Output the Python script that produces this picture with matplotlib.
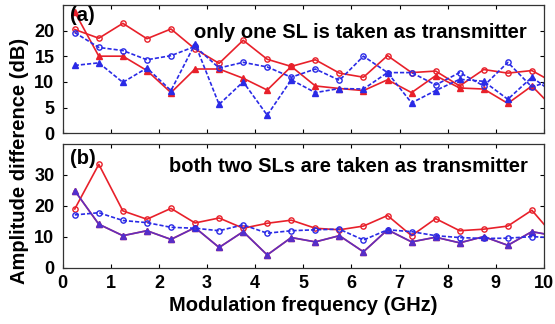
import numpy as np
import matplotlib.pyplot as plt

plt.rcParams['font.family'] = ['Liberation Sans', 'DejaVu Sans']
plt.rcParams['font.weight'] = 'bold'

# modulation frequencies (GHz)
freq = [0.25, 0.75, 1.25, 1.75, 2.25, 2.75, 3.25, 3.75, 4.25, 4.75,
        5.25, 5.75, 6.25, 6.75, 7.25, 7.75, 8.25, 8.75, 9.25, 9.75, 10.25]

# (a) only one SL is taken as transmitter
a_red_circ = [20.2, 18.5, 21.4, 18.4, 20.3, 16.4, 13.6, 18.1, 14.4, 13.0,
              14.3, 11.7, 10.9, 15.1, 11.8, 12.1, 9.2, 12.4, 11.7, 12.2, 9.6]
a_red_tri = [23.6, 15.0, 15.0, 12.2, 7.9, 12.5, 12.5, 10.7, 8.4, 13.0,
             9.2, 8.7, 8.3, 10.4, 7.9, 11.2, 8.8, 8.6, 5.8, 9.2, 4.4]
a_blue_circ = [19.6, 16.7, 16.1, 14.3, 15.1, 16.9, 12.7, 13.8, 12.9, 10.9,
               12.5, 10.3, 15.0, 11.8, 11.8, 9.4, 11.8, 9.2, 13.8, 9.0, 10.5]
a_blue_tri = [13.2, 13.7, 9.9, 12.7, 8.3, 17.4, 5.6, 10.0, 3.5, 10.4,
              7.9, 8.7, 8.6, 11.8, 5.9, 8.3, 10.5, 10.1, 6.6, 10.9, 7.5]

# (b) both two SLs are taken as transmitter
b_red_circ = [19.0, 33.4, 18.4, 15.7, 19.2, 14.5, 16.1, 12.8, 14.4, 15.4,
              12.8, 12.3, 13.5, 16.9, 10.4, 15.9, 12.0, 12.5, 13.5, 18.6, 9.6]
b_blue_circ = [17.1, 17.8, 15.3, 14.6, 13.1, 12.8, 12.0, 13.9, 11.2, 12.0,
               12.3, 12.5, 9.0, 12.3, 11.7, 10.4, 9.8, 9.5, 9.6, 10.1, 9.7]
b_tri = [24.9, 14.1, 10.4, 12.0, 9.2, 13.0, 6.6, 11.7, 4.2, 9.8,
         8.4, 10.4, 5.2, 12.3, 8.4, 9.9, 8.1, 10.1, 7.3, 11.7, 10.3]

red = '#e8202a'
blue = '#2a2ae6'

fig = plt.figure(figsize=(5.55, 3.24), dpi=100)
ax1 = fig.add_axes([0.113, 0.589, 0.867, 0.396])
ax2 = fig.add_axes([0.113, 0.173, 0.867, 0.383])

kw = dict(lw=1.2, ms=3.8, clip_on=True)
ax1.plot(freq, a_red_circ, '-', color=red, marker='o', mfc='none', mew=1.0, **kw)
ax1.plot(freq, a_red_tri, '-', color=red, marker='^', **kw)
ax1.plot(freq, a_blue_circ, '--', color=blue, marker='o', mfc='none', mew=1.0,
         dashes=(2.5, 1.2), **kw)
ax1.plot(freq, a_blue_tri, '--', color=blue, marker='^', dashes=(2.5, 1.2), **kw)

ax2.plot(freq, b_red_circ, '-', color=red, marker='o', mfc='none', mew=1.0, **kw)
ax2.plot(freq, b_tri, '-', color=red, marker='^', **kw)
ax2.plot(freq, b_tri, '-', color='#4a30d8', marker='^', alpha=0.85, **kw)
ax2.plot(freq, b_blue_circ, '--', color=blue, marker='o', mfc='none', mew=1.0,
         dashes=(2.5, 1.2), **kw)

ax1.set_xlim(0, 10)
ax1.set_ylim(0, 25)
ax1.set_yticks([0, 5, 10, 15, 20])
ax1.set_xticks(range(11))
ax1.set_xticklabels([])

ax2.set_xlim(0, 10)
ax2.set_ylim(0, 40)
ax2.set_yticks([0, 10, 20, 30])
ax2.set_xticks(range(11))

for ax in (ax1, ax2):
    ax.tick_params(direction='in', top=True, right=True, length=3,
                   labelsize=13, width=0.8, pad=6)
    for s in ax.spines.values():
        s.set_linewidth(0.9)
        s.set_color('#333333')
    for lab in ax.get_xticklabels() + ax.get_yticklabels():
        lab.set_fontweight('bold')
ax2.tick_params(axis='x', pad=5)

ax1.text(0.015, 0.995, '(a)', transform=ax1.transAxes, fontsize=14.5,
         fontweight='bold', va='top', ha='left')
ax1.text(0.965, 0.745, 'only one SL is taken as transmitter', transform=ax1.transAxes,
         fontsize=14.5, fontweight='bold', va='baseline', ha='right')
ax2.text(0.015, 0.955, '(b)', transform=ax2.transAxes, fontsize=14.5,
         fontweight='bold', va='top', ha='left')
ax2.text(0.967, 0.772, 'both two SLs are taken as transmitter', transform=ax2.transAxes,
         fontsize=14.5, fontweight='bold', va='baseline', ha='right')

ax2.set_xlabel('Modulation frequency (GHz)', fontsize=14.5, fontweight='bold',
               labelpad=3)
fig.text(0.036, 0.503, 'Amplitude difference (dB)', rotation=90, fontsize=14.5,
         fontweight='bold', va='center', ha='center')

fig.savefig('out.png', dpi=100)
